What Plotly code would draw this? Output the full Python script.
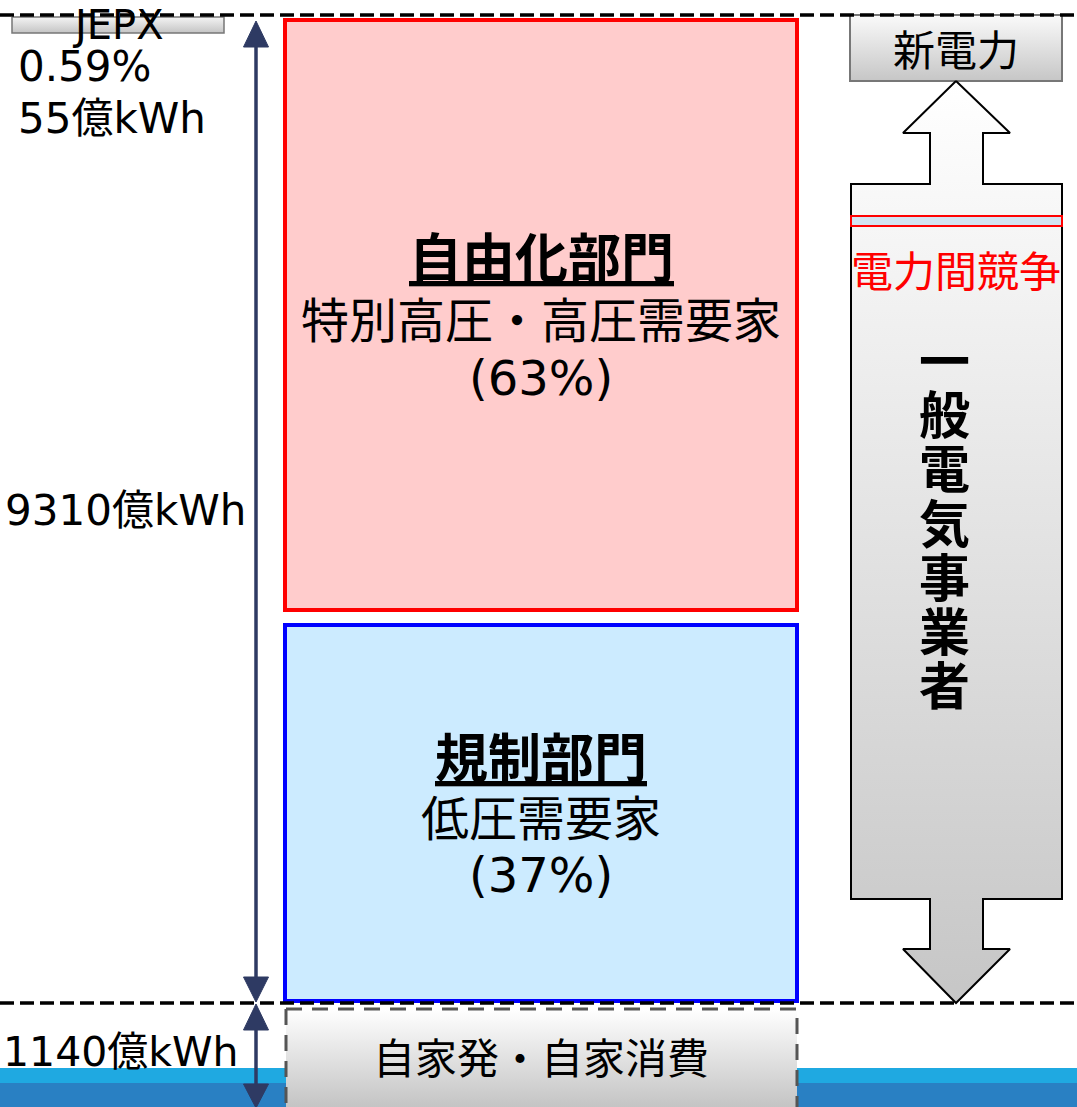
import plotly.graph_objects as go

# ---- data ----
sectors = ["自由化部門", "規制部門"]
sector_desc = ["特別高圧・高圧需要家", "低圧需要家"]
sector_share = [63, 37]
total_kwh = 9310          # 億kWh
self_kwh = 1140           # 億kWh
jepx_share = 0.59         # %
jepx_kwh = 55             # 億kWh
self_label = "自家発・自家消費"
new_power = "新電力"
competition = "電力間競争"
incumbent = "一般電気事業者"
jepx_label = "JEPX"

W, H = 1077, 1107
FONT = "DejaVu Sans, Noto Sans CJK JP"
CJK = "Noto Sans CJK JP"
NAVY = "#2E3A63"

fig = go.Figure()

def grad_poly(xs, ys, top_col, bot_col, y0, y1, line_col, line_w, dash="solid"):
    fig.add_trace(go.Scatter(
        x=xs, y=ys, mode="lines", fill="toself",
        fillgradient=dict(type="vertical",
                          colorscale=[[0, top_col], [1, bot_col]],
                          start=y0, stop=y1),
        line=dict(color=line_col, width=line_w, dash=dash),
        hoverinfo="skip", showlegend=False))

# JEPX box
grad_poly([12, 224, 224, 12, 12], [17, 17, 33, 33, 17], "#F4F4F4", "#C4C4C4", 17, 33, "#777777", 1.5)
# 新電力 box
grad_poly([850, 1062, 1062, 850, 850], [15, 15, 81, 81, 15], "#FAFAFA", "#C6C6C6", 15, 81, "#777777", 2)
# big double arrow (一般電気事業者)
ax = [956, 1010, 983, 983, 1062, 1062, 983, 983, 1010, 956, 903, 930, 930, 851, 851, 930, 930, 903, 956]
ay = [81, 133, 133, 184, 184, 899, 899, 949, 949, 1003, 949, 949, 899, 899, 184, 184, 133, 133, 81]
grad_poly(ax, ay, "#FFFFFF", "#C6C6C6", 81, 1003, "#000000", 2)
# 自家発 box (dashed)
grad_poly([286, 797, 797, 286, 286], [1009, 1009, 1130, 1130, 1009], "#FFFFFF", "#C4C4C4", 1009, 1107, "#555555", 3, "16px,10px")

shapes = []
# blue water bands
for x0, x1 in [(0, 286), (797, W)]:
    shapes.append(dict(type="rect", x0=x0, x1=x1, y0=1068, y1=1083, fillcolor="#1FA9E1", line=dict(width=0), layer="below"))
    shapes.append(dict(type="rect", x0=x0, x1=x1, y0=1083, y1=H, fillcolor="#2980C3", line=dict(width=0), layer="below"))
# sector boxes
shapes.append(dict(type="rect", x0=285, x1=797, y0=20, y1=610, fillcolor="#FFCCCC", line=dict(color="#FF0000", width=4), layer="below"))
shapes.append(dict(type="rect", x0=285, x1=797, y0=625, y1=1001, fillcolor="#CCEBFF", line=dict(color="#0000FF", width=4), layer="below"))
# thin red bar inside arrow
shapes.append(dict(type="rect", x0=851, x1=1062, y0=216, y1=226, fillcolor="#D2E4F2", line=dict(color="#FF0000", width=2), layer="above"))
# dashed horizontal lines
for yy in [15, 1003]:
    shapes.append(dict(type="line", x0=0, x1=W, y0=yy, y1=yy, line=dict(color="#000000", width=3.5, dash="14px,6px"), layer="above"))
# left measuring arrows
shapes.append(dict(type="line", x0=256, x1=256, y0=40, y1=985, line=dict(color=NAVY, width=3.5), layer="above"))
shapes.append(dict(type="line", x0=256, x1=256, y0=1020, y1=1100, line=dict(color=NAVY, width=3.5), layer="above"))
def tri(tip_y, base_y):
    return dict(type="path", path=f"M 256 {tip_y} L 268.5 {base_y} L 243.5 {base_y} Z",
                fillcolor=NAVY, line=dict(color=NAVY, width=1), layer="above")
shapes += [tri(21, 47), tri(1002, 977), tri(1004, 1030), tri(1108, 1084)]

annotations = []
def txt(x, y, s, size, color="#000000", xanchor="center", bold=False, family=FONT, yanchor="middle"):
    if bold:
        s = f"<b>{s}</b>"
    annotations.append(dict(x=x, y=y, text=s, showarrow=False, xanchor=xanchor, yanchor=yanchor,
                            font=dict(family=family, size=size, color=color)))

# left side
txt(118, 0, jepx_label, 40, yanchor="top")
txt(16, 66, f"{jepx_share}%", 42, xanchor="left")
txt(16, 118, f"{jepx_kwh}億kWh", 42, xanchor="left")
txt(3, 510, f"{total_kwh}億kWh", 42, xanchor="left")
txt(1, 1052, f"{self_kwh}億kWh", 41, xanchor="left")

# sector labels
cy = [(255, 317, 378), (755, 815, 875)]
for name, desc, share, (y1, y2, y3) in zip(sectors, sector_desc, sector_share, cy):
    txt(541, y1, f"<u>{name}</u>", 53, bold=True, family=CJK)
    txt(541, y2, desc, 48, family=CJK)
    txt(541, y3, f"({share}%)", 48)

txt(541, 1055, self_label, 42, family=CJK)
txt(956, 47, new_power, 42, family=CJK)
txt(956, 268, competition, 42, color="#FF0000", family=CJK)
for i, ch in enumerate(incumbent):
    txt(944, 358 + i * 54.2, ch, 51, bold=True, family=CJK)

fig.update_layout(
    width=W, height=H, margin=dict(l=0, r=0, t=0, b=0),
    paper_bgcolor="white", plot_bgcolor="white",
    xaxis=dict(range=[0, W], visible=False, fixedrange=True),
    yaxis=dict(range=[H, 0], visible=False, fixedrange=True),
    shapes=shapes, annotations=annotations, showlegend=False,
)
fig.write_html("out.html", config={"displayModeBar": False},
               post_script="document.body.style.margin='0';document.body.style.overflow='hidden';")
